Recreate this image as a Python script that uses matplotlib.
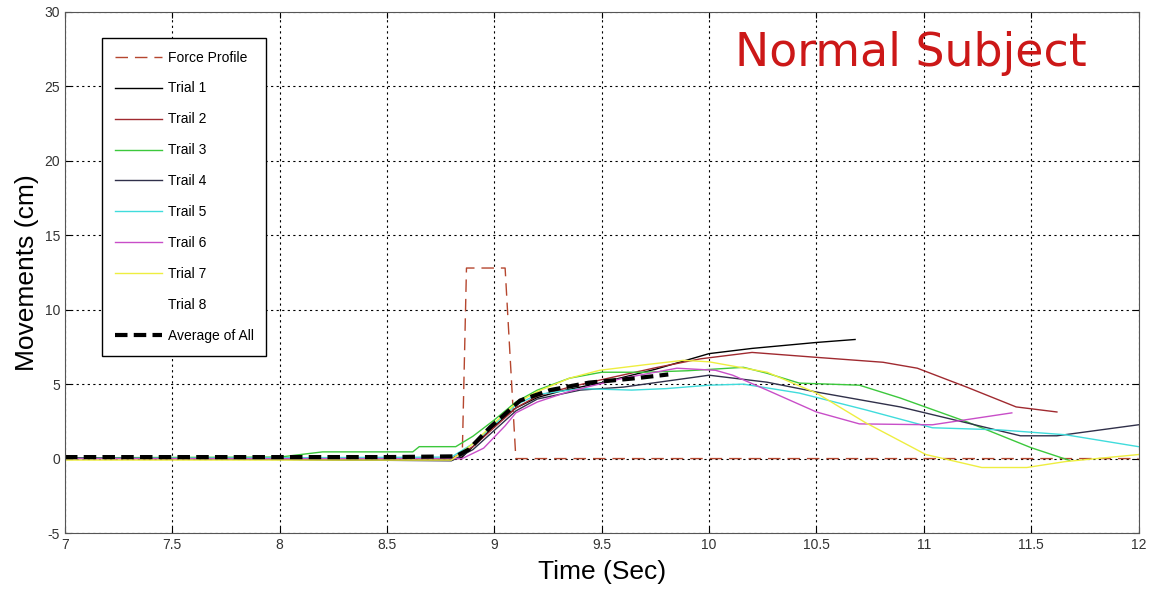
import numpy as np
import matplotlib
matplotlib.use('Agg')
import matplotlib.pyplot as plt

# force profile
t_force = [7.0, 8.85, 8.87, 9.05, 9.10, 12.0]
y_force = [0.0, 0.0, 12.8, 12.8, 0.0, 0.0]

# trials
t_tr1 = [7.0, 7.8, 8.3, 8.5, 8.8, 8.85, 8.9, 9.0, 9.1, 9.2, 9.3, 9.5, 9.75, 10.0, 10.2, 10.5, 10.68]
y_tr1 = [0.05, 0.0, -0.1, -0.1, -0.1, 0.1, 0.8, 2.2, 3.4, 4.1, 4.5, 5.1, 6.0, 7.05, 7.4, 7.8, 8.0]

t_tr2 = [7.0, 8.8, 8.9, 9.0, 9.1, 9.2, 9.35, 9.5, 9.75, 9.96, 10.2, 10.5, 10.81, 10.97, 11.2, 11.43, 11.62]
y_tr2 = [0.0, 0.0, 0.8, 2.1, 3.4, 4.2, 4.8, 5.3, 6.1, 6.7, 7.13, 6.8, 6.47, 6.07, 4.8, 3.47, 3.13]

t_tr3 = [7.0, 8.0, 8.2, 8.45, 8.62, 8.65, 8.82, 8.9, 9.0, 9.1, 9.2, 9.35, 9.5, 9.7, 9.9, 10.16, 10.27, 10.42, 10.7, 10.89, 11.2, 11.5, 11.68]
y_tr3 = [0.05, 0.1, 0.45, 0.45, 0.45, 0.8, 0.8, 1.5, 2.6, 3.8, 4.6, 5.4, 5.8, 5.8, 5.9, 6.13, 5.73, 5.07, 4.93, 4.07, 2.47, 0.73, -0.13]

t_tr4 = [7.0, 8.8, 8.9, 9.0, 9.1, 9.2, 9.4, 9.6, 9.8, 10.0, 10.27, 10.5, 10.89, 11.2, 11.45, 11.62, 12.0]
y_tr4 = [0.05, -0.15, 0.6, 1.9, 3.2, 4.0, 4.6, 4.8, 5.2, 5.6, 5.13, 4.47, 3.47, 2.4, 1.53, 1.53, 2.27]

t_tr5 = [7.0, 8.8, 8.9, 9.0, 9.1, 9.2, 9.4, 9.64, 9.8, 10.0, 10.16, 10.42, 10.73, 11.04, 11.35, 11.66, 12.0]
y_tr5 = [0.0, 0.1, 1.0, 2.3, 3.6, 4.3, 4.7, 4.6, 4.7, 4.93, 5.0, 4.4, 3.27, 2.07, 1.93, 1.6, 0.8]

t_tr6 = [7.0, 8.85, 8.95, 9.05, 9.1, 9.2, 9.34, 9.43, 9.6, 9.85, 10.03, 10.11, 10.27, 10.5, 10.7, 11.04, 11.41]
y_tr6 = [0.0, 0.0, 0.7, 2.2, 3.07, 3.8, 4.47, 4.8, 5.4, 6.07, 5.93, 5.6, 4.6, 3.13, 2.33, 2.27, 3.07]

t_tr7 = [7.0, 8.8, 8.9, 9.0, 9.1, 9.2, 9.35, 9.49, 9.7, 9.88, 10.0, 10.27, 10.5, 10.73, 11.01, 11.27, 11.48, 11.66, 12.0]
y_tr7 = [-0.1, -0.1, 1.0, 2.4, 3.7, 4.5, 5.4, 5.93, 6.3, 6.6, 6.5, 5.8, 4.4, 2.4, 0.27, -0.6, -0.6, -0.2, 0.27]

# average of all
t_avg = [7.0, 8.5, 8.82, 8.88, 8.98, 9.12, 9.26, 9.44, 9.66, 9.81]
y_avg = [0.1, 0.1, 0.15, 0.6, 2.1, 3.9, 4.6, 5.1, 5.4, 5.65]

trials = [
    (t_tr1, y_tr1, '#000000', 'Trial 1'),
    (t_tr2, y_tr2, '#a02a30', 'Trail 2'),
    (t_tr3, y_tr3, '#3cc83c', 'Trail 3'),
    (t_tr4, y_tr4, '#30304a', 'Trail 4'),
    (t_tr5, y_tr5, '#40dcdc', 'Trail 5'),
    (t_tr6, y_tr6, '#c84ec8', 'Trail 6'),
    (t_tr7, y_tr7, '#eeee40', 'Trial 7'),
]

plt.rcParams['font.family'] = ['Liberation Sans', 'DejaVu Sans']
plt.rcParams['axes.unicode_minus'] = False

fig = plt.figure(figsize=(11.5, 5.9), dpi=100)
ax = fig.add_axes([0.0565, 0.0966, 0.9335, 0.8831])

ax.plot(t_force, y_force, color='#b5462e', lw=1.0, dashes=(9, 5), label='Force Profile')
for t, y, c, name in trials:
    ax.plot(t, y, color=c, lw=1.0, label=name)
ax.plot([], [], color='white', lw=1.0, label='Trial 8')
ax.plot(t_avg, y_avg, color='black', lw=3.0, dashes=(3, 1.5), label='Average of All')

ax.set_xlim(7, 12)
ax.set_ylim(-5, 30)
ax.set_xticks(np.arange(7, 12.01, 0.5))
ax.set_xticklabels(['7', '7.5', '8', '8.5', '9', '9.5', '10', '10.5', '11', '11.5', '12'])
ax.set_yticks(np.arange(-5, 30.1, 5))
ax.grid(True, color='black', linestyle=(0, (2, 3)), lw=0.8)
ax.tick_params(direction='in', labelsize=10, labelcolor='#333333', length=4,
               top=True, right=True)
for s in ax.spines.values():
    s.set_color('#555555')

ax.set_xlabel('Time (Sec)', fontsize=19, labelpad=6)
ax.set_ylabel('Movements (cm)', fontsize=19, labelpad=4)

ax.text(10.94, 27.2, 'Normal Subject', color='#cc1818', fontsize=33,
        family='DejaVu Sans', ha='center', va='center')

leg = ax.legend(loc='upper left', bbox_to_anchor=(0.0345, 0.95), borderaxespad=0,
                fontsize=10, handlelength=3.45, handletextpad=0.4, labelspacing=1.22,
                fancybox=False, edgecolor='black', framealpha=1, borderpad=0.9)
leg.get_frame().set_linewidth(1.0)

fig.savefig('out.png', dpi=100)
